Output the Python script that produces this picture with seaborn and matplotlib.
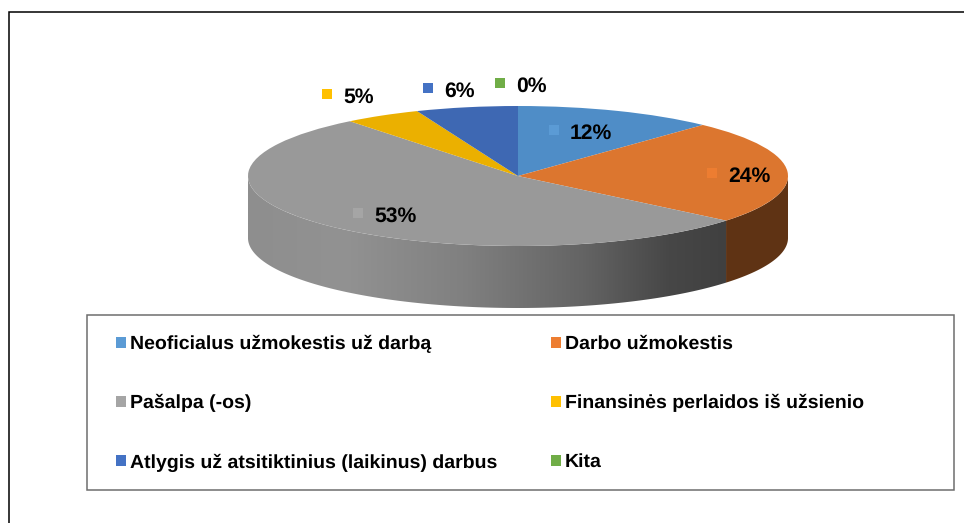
import numpy as np
import matplotlib
matplotlib.use("Agg")
import matplotlib.pyplot as plt
from matplotlib.colors import LinearSegmentedColormap
from matplotlib.patches import Patch, Polygon, Rectangle
import seaborn as sns

categories = ["Neoficialus užmokestis už darbą", "Darbo užmokestis", "Pašalpa (-os)",
              "Finansinės perlaidos iš užsienio", "Atlygis už atsitiktinius (laikinus) darbus", "Kita"]
values = [12, 24, 53.3, 4.6, 6.1, 0]
legend_colors = ["#5B9BD5", "#ED7D31", "#A5A5A5", "#FFC000", "#4472C4", "#70AD47"]
top_colors = ["#4F8DC7", "#DC762F", "#999999", "#EBB000", "#3E68B3", "#67A040"]
wall_colors = ["#2F5577", "#5F3314", "#777777", "#8C6900", "#284370", "#3E6126"]
label_pos = [(554, 130), (712, 173), (358, 213), (327, 94), (428, 88), (500, 83)]

W, H = 964, 523
sns.set_theme(style="white")
plt.rcParams["font.family"] = ["Liberation Sans", "DejaVu Sans"]
plt.rcParams["text.hinting"] = "no_hinting"
fig = plt.figure(figsize=(W / 100, H / 100), dpi=100, facecolor="white")

# Pie axes: ellipse 248..788 x 106..246 px, wall down to 308 px
RX, RY, DEPTH = 270, 70, 62
pie_ax = fig.add_axes([248 / W, 1 - 308 / H, 540 / W, 202 / H])
pie_ax.axis("off")
wedges, _ = pie_ax.pie(values, colors=sns.color_palette(top_colors), startangle=90,
                       counterclock=False, radius=1, wedgeprops={"linewidth": 0, "zorder": 3})
pie_ax.set_aspect("auto")
d = DEPTH / RY
xlim, ylim = (-1, 1), (1 - 202 / RY, 1)

grey_cmap = LinearSegmentedColormap.from_list(
    "wall", [(0, "#8E8E8E"), (0.2, "#929292"), (0.45, "#808080"), (0.7, "#646464"),
             (0.88, "#474747"), (1, "#404040")])
edges = np.cumsum([0] + values) * 3.6
for i, (a, b) in enumerate(zip(edges[:-1], edges[1:])):
    lo, hi = max(a, 90), min(b, 270)
    if hi <= lo:
        continue
    t = np.radians(np.linspace(lo, hi, 200))
    xs, ys = np.sin(t), np.cos(t)
    poly = np.column_stack([np.r_[xs, xs[::-1]], np.r_[ys, ys[::-1] - d]])
    if categories[i].startswith("Pašalpa"):
        # horizontal light falloff along the grey wall
        x_right = np.sin(np.radians(edges[2]))
        grad = np.linspace(0, 1, 256).reshape(1, -1)
        im = pie_ax.imshow(grad, cmap=grey_cmap, aspect="auto", zorder=1,
                           extent=[-1, x_right, ylim[0], ylim[1]])
        patch = Polygon(poly, closed=True, transform=pie_ax.transData, fc="none", ec="none")
        pie_ax.add_patch(patch)
        im.set_clip_path(patch)
    else:
        pie_ax.add_patch(Polygon(poly, closed=True, fc=wall_colors[i], ec="none", zorder=1))
pie_ax.set_xlim(*xlim)
pie_ax.set_ylim(*ylim)

# Overlay in pixel coordinates
ov = fig.add_axes([0, 0, 1, 1], facecolor="none")
ov.set_xlim(0, W)
ov.set_ylim(H, 0)
ov.axis("off")
ov.plot([8.5, 8.5, W], [H, 12, 12], color="black", lw=1.1, solid_joinstyle="miter")
ov.add_patch(Rectangle((87, 315), 867, 175, fc="white", ec="#6E6E6E", lw=1.1))

for v, c, (x, y) in zip(values, legend_colors, label_pos):
    ov.scatter([x], [y], marker="s", s=52, color=c, linewidths=0, zorder=5)
    ov.text(x + 16, y + 3.5, f"{v:.0f}%", fontsize=15.2, fontweight="bold", color="black",
            va="center", ha="left", zorder=6)

order = [0, 2, 4, 1, 3, 5]
handles = [Patch(fc=legend_colors[i], ec="none") for i in order]
labels = [categories[i] for i in order]
FS = 14.0
leg = ov.legend(handles, labels, ncols=2, frameon=False, prop={"size": FS, "weight": "bold"},
                labelcolor="black",
                loc="upper left", bbox_to_anchor=(116 / W, 1 - 335 / H), bbox_transform=fig.transFigure,
                borderaxespad=0, borderpad=0, handlelength=0.515, handleheight=0.515,
                handletextpad=0.2, labelspacing=2.11, columnspacing=2.77)
fig.savefig("out.png", dpi=100)
